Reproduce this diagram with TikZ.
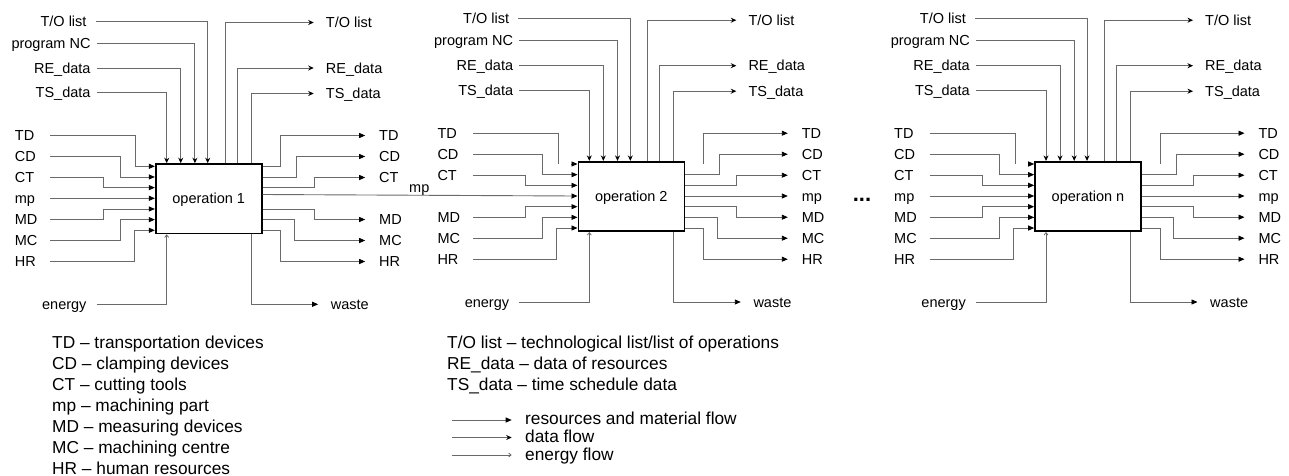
\documentclass[tikz,border=0pt]{standalone}
\usepackage{fontspec}
\setmainfont{Liberation Sans}
\usetikzlibrary{arrows.meta,calc}
\definecolor{ln}{HTML}{6A6A6A}
\tikzset{
 lbl/.style={font=\fontsize{14.5}{16}\selectfont, inner sep=0pt, text height=10.4pt, text depth=0pt},
 leg/.style={font=\fontsize{17.3}{20}\selectfont, inner sep=0pt, anchor=base west},
 opbox/.style={draw=black, line width=1.6pt, minimum width=106pt, minimum height=69.5pt, inner sep=0pt, lbl},
 res/.style={draw=ln, line width=0.9pt, -{Triangle[length=6pt,width=5pt,color=black]}},
 dat/.style={draw=ln, line width=0.9pt, -{Stealth[length=5.5pt,width=5pt,color=black]}},
 ene/.style={draw=ln, line width=0.8pt, -{Straight Barb[length=2.5pt,width=4pt]}},
 wire/.style={draw=ln, line width=0.9pt},
}
\newcommand\opblock[5]{%
\begin{scope}[shift={(#2,#3)}]
 \node[opbox] (#1box) at (53,34.75) {#4};
 \foreach \k/\yy in {0/2.3,1/12.97,2/23.64,3/34.31,4/44.98,5/55.65,6/66.32} {\coordinate (#1r\k) at (0,\yy);}
 % left / right row labels
 \foreach \n/\yy in {TD/-28.5, CD/-7.5, CT/13.5, MD/55.5, MC/76.5, HR/97.5} {
  \node[lbl,anchor=west] (#1l\n) at (-141,\yy) {\n};
  \coordinate (#1s\n) at (-105.3,\yy);
  \node[lbl,anchor=west] (#1o\n) at (223.3,\yy) {\n};
  \coordinate (#1t\n) at (209.5,\yy);
 }
 \coordinate (#1smp) at (-105.3,34.31);
 \coordinate (#1tmp) at (209.5,34.31);
 % left inputs
 \draw[res] (#1sCD) -| (-35.7,12.97) -- (#1box.west |- #1r1);
 \draw[res] (#1sCT) -| (-52.7,23.64) -- (#1box.west |- #1r2);
 \draw[res] (#1sMD) -| (-52.7,44.98) -- (#1box.west |- #1r4);
 \draw[res] (#1sMC) -| (-35.7,55.65) -- (#1box.west |- #1r5);
 \draw[res] (#1sHR) -| (-21.5,66.32) -- (#1box.west |- #1r6);
 % right outputs
 \draw[res] (#1box.east |- #1r1) -| (141,-7.5) -- (#1tCD);
 \draw[res] (#1box.east |- #1r2) -| (158.5,13.5) -- (#1tCT);
 \draw[res] (#1box.east |- #1r4) -| (158.5,55.5) -- (#1tMD);
 \draw[res] (#1box.east |- #1r5) -| (138.8,76.5) -- (#1tMC);
 \draw[res] (#1box.east |- #1r6) -| (125.2,97.5) -- (#1tHR);
 \ifnum#5=1
  \draw[res] (#1sTD) -| (-20,2.3) -- (#1box.west |- #1r0);
  \draw[res] (#1box.east |- #1r0) -| (125.2,-28.5) -- (#1tTD);
 \else
  \coordinate (#1gL) at (-20,2.3);
  \coordinate (#1gR) at (125.2,2.3);
  \draw[wire] (#1sTD) -| (#1gL);
  \draw[res] ($(#1box.west |- #1r0)+(-6.5,0)$) -- (#1box.west |- #1r0);
  \draw[res] (#1gR) |- (#1tTD);
 \fi
 \ifnum#5=2\else
  \node[lbl,anchor=west] (#1lmp) at (-141,34.31) {mp};
  \draw[res] (#1smp) -- (#1box.west |- #1smp);
 \fi
 \ifnum#5=1\else
  \node[lbl,anchor=west] (#1omp) at (223.3,34.31) {mp};
  \draw[res] (#1box.east |- #1r3) -- (#1tmp);
 \fi
 % top inputs (data)
 \node[lbl,anchor=east] (#1iTO) at (-69,-143) {T/O list};
 \node[lbl,anchor=east] (#1iNC) at (-65,-121) {program NC};
 \node[lbl,anchor=east] (#1iRE) at (-65,-96) {RE\_data};
 \node[lbl,anchor=east] (#1iTS) at (-65,-71.5) {TS\_data};
 \coordinate (#1siTO) at (-60,-143);
 \coordinate (#1siNC) at (-59,-121);
 \coordinate (#1siRE) at (-59,-96);
 \coordinate (#1siTS) at (-59,-71.5);
 \coordinate (#1xTO) at (52,0);
 \coordinate (#1xNC) at (39.2,0);
 \coordinate (#1xRE) at (25,0);
 \coordinate (#1xTS) at (11,0);
 \draw[dat] (#1siTO) -| (#1box.north -| #1xTO);
 \draw[dat] (#1siNC) -| (#1box.north -| #1xNC);
 \draw[dat] (#1siRE) -| (#1box.north -| #1xRE);
 \draw[dat] (#1siTS) -| (#1box.north -| #1xTS);
 % top outputs (data)
 \coordinate (#1xoTO) at (69.5,0);
 \coordinate (#1xoRE) at (81.5,0);
 \coordinate (#1xoTS) at (95.3,0);
 \coordinate (#1toTO) at (158,-141.5);
 \coordinate (#1toRE) at (158,-96);
 \coordinate (#1toTS) at (158,-70.5);
 \draw[dat] (#1box.north -| #1xoTO) |- (#1toTO);
 \draw[dat] (#1box.north -| #1xoRE) |- (#1toRE);
 \draw[dat] (#1box.north -| #1xoTS) |- (#1toTS);
 \node[lbl,anchor=west] (#1ooTO) at (170,-141.5) {T/O list};
 \node[lbl,anchor=west] (#1ooRE) at (170,-96) {RE\_data};
 \node[lbl,anchor=west] (#1ooTS) at (170,-70.5) {TS\_data};
 % energy and waste
 \node[lbl,anchor=east] (#1en) at (-69,140.3) {energy};
 \coordinate (#1sen) at (-59,140.3);
 \draw[ene] (#1sen) -| (#1box.south -| #1xTS);
 \coordinate (#1tw) at (162.5,140.3);
 \draw[res] (#1box.south -| #1xoTS) |- (#1tw);
 \node[lbl,anchor=west] (#1wl) at (175,140.3) {waste};
\end{scope}}
\begin{document}
\begin{tikzpicture}[x=1pt,y=-1pt]
\useasboundingbox (0,0) rectangle (1289,476);
\opblock{a}{155.7}{164}{operation 1}{1}
\opblock{b}{578.3}{161.7}{operation 2}{2}
\opblock{c}{1035}{161.7}{operation n}{3}
% mp from operation 1 to operation 2
\coordinate (amp) at (0,194.5);
\draw[res] (abox.east |- amp) -- (bbox.west |- br3);
\node[lbl] (mplab) at (419.3,187.7) {mp};
\node[font=\fontsize{22}{22}\selectfont\bfseries, inner sep=0pt, anchor=base] (dots) at (862,201) {...};
% legend
\node[leg] (g1) at (52,348.3) {TD – transportation devices};
\node[leg] (g2) at (52,369.4) {CD – clamping devices};
\node[leg] (g3) at (52,390.5) {CT – cutting tools};
\node[leg] (g4) at (52,411.6) {mp – machining part};
\node[leg] (g5) at (52,432.7) {MD – measuring devices};
\node[leg] (g6) at (52,453.8) {MC – machining centre};
\node[leg] (g7) at (52,474.9) {HR – human resources};
\node[leg] (h1) at (447,348.3) {T/O list – technological list/list of operations};
\node[leg] (h2) at (447,369.4) {RE\_data – data of resources};
\node[leg] (h3) at (447,390.5) {TS\_data – time schedule data};
\coordinate (la1) at (451.7,420); \coordinate (lb1) at (511.7,420);
\coordinate (la2) at (451.7,437.5); \coordinate (lb2) at (511.7,437.5);
\coordinate (la3) at (451.7,455); \coordinate (lb3) at (511.7,455);
\draw[res] (la1) -- (lb1);
\draw[dat] (la2) -- (lb2);
\draw[ene] (la3) -- (lb3);
\node[leg] (k1) at (525,424.7) {resources and material flow};
\node[leg] (k2) at (525,442.5) {data flow};
\node[leg] (k3) at (525,460) {energy flow};
\end{tikzpicture}
\end{document}
